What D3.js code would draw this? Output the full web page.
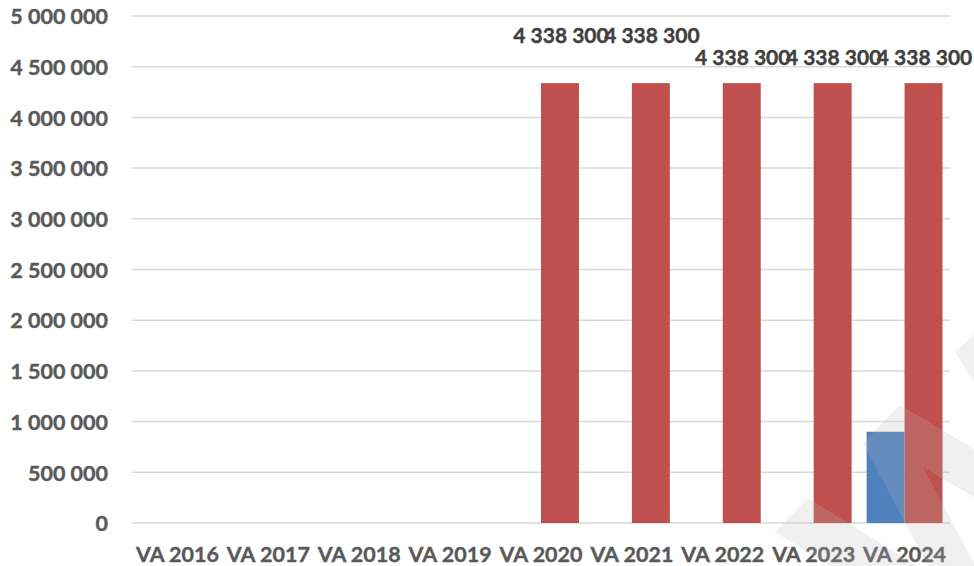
<!DOCTYPE html>
<html>
<head>
<meta charset="utf-8">
<script src="https://cdn.jsdelivr.net/npm/d3@7"></script>
<style>
  html, body { margin: 0; padding: 0; background: #ffffff; }
  svg { display: block; }
</style>
</head>
<body>
<svg id="chart" width="974" height="566"></svg>
<script>
// ---- data ----
const categories = ["VA 2016", "VA 2017", "VA 2018", "VA 2019", "VA 2020", "VA 2021", "VA 2022", "VA 2023", "VA 2024"];
const seriesBlue = [null, null, null, null, null, null, null, null, 900000];
const seriesRed  = [null, null, null, null, 4338300, 4338300, 4338300, 4338300, 4338300];
const yTicks = [0, 500000, 1000000, 1500000, 2000000, 2500000, 3000000, 3500000, 4000000, 4500000, 5000000];

(function () {
  // ---- layout ----
  const plotL = 132, plotR = 950, plotT = 16, plotB = 523;
  const svg = d3.select("#chart");
  const FONT = "Lato, 'Liberation Sans', Arial, sans-serif";
  const FS = 21.5;

  const x = d3.scaleBand().domain(categories).range([plotL, plotR]).paddingInner(0.165).paddingOuter(0.0825);
  const sub = d3.scaleBand().domain(["blue", "red"]).range([0, x.bandwidth()]);
  const y = d3.scaleLinear().domain([0, 5000000]).range([plotB, plotT]);
  const fmt = v => d3.format(",")(v).replace(/,/g, " ");

  // gridlines
  svg.append("g").selectAll("line").data(yTicks).join("line")
    .attr("x1", plotL).attr("x2", plotR)
    .attr("y1", d => y(d)).attr("y2", d => y(d))
    .attr("stroke", "#d9d9d9").attr("stroke-width", 1.5);

  // y axis labels
  const yAxis = d3.axisLeft(y).tickValues(yTicks).tickFormat(fmt).tickSize(0).tickPadding(0);
  const gy = svg.append("g").attr("transform", "translate(108,0)").call(yAxis);
  gy.select(".domain").remove();
  gy.selectAll("text").attr("font-family", FONT).attr("font-weight", "bold")
    .attr("font-size", FS).attr("fill", "#595959").attr("dy", "0.36em")
    .attr("stroke", "#595959").attr("stroke-width", 0.4);

  // x axis labels
  const xAxis = d3.axisBottom(x).tickSize(0).tickPadding(0);
  const gx = svg.append("g").attr("transform", "translate(0,562)").call(xAxis);
  gx.select(".domain").remove();
  gx.selectAll("text").attr("font-family", FONT).attr("font-weight", "bold")
    .attr("font-size", FS).attr("fill", "#595959").attr("dy", 0)
    .attr("stroke", "#595959").attr("stroke-width", 0.4);

  // bars
  const rows = categories.map((c, i) => ({ c, blue: seriesBlue[i], red: seriesRed[i], i }));
  svg.append("g").selectAll("rect").data(rows.filter(d => d.blue != null)).join("rect")
    .attr("x", d => x(d.c) + sub("blue")).attr("width", sub.bandwidth())
    .attr("y", d => y(d.blue)).attr("height", d => y(0) - y(d.blue))
    .attr("fill", "#4F81BD");
  svg.append("g").selectAll("rect").data(rows.filter(d => d.red != null)).join("rect")
    .attr("x", d => x(d.c) + sub("red")).attr("width", sub.bandwidth())
    .attr("y", d => y(d.red)).attr("height", d => y(0) - y(d.red))
    .attr("fill", "#C0504D");

  // data labels (red series), staggered as in the original
  const labelBaseline = i => (i <= 5 ? 43 : 65);
  svg.append("g").selectAll("text").data(rows.filter(d => d.red != null)).join("text")
    .attr("x", d => x(d.c) + sub("red") + sub.bandwidth() / 2 + 1)
    .attr("y", d => labelBaseline(d.i))
    .attr("text-anchor", "middle")
    .attr("font-family", FONT).attr("font-weight", "bold").attr("font-size", 21)
    .attr("fill", "#404040").attr("stroke", "#404040").attr("stroke-width", 0.4)
    .text(d => fmt(d.red));

  // faint watermark in the bottom-right corner
  const wm = svg.append("g").attr("fill", "rgb(184,184,184)").attr("fill-opacity", 0.21);
  wm.append("polygon").attr("points", "775,532 808,498 917,566 830,566");
  wm.append("polygon").attr("points", "863,443 900,405 974,449 974,497 923,467 974,563 974,566 928,566");
  wm.append("polygon").attr("points", "955,352 974,334 974,382");
})();
</script>
</body>
</html>
